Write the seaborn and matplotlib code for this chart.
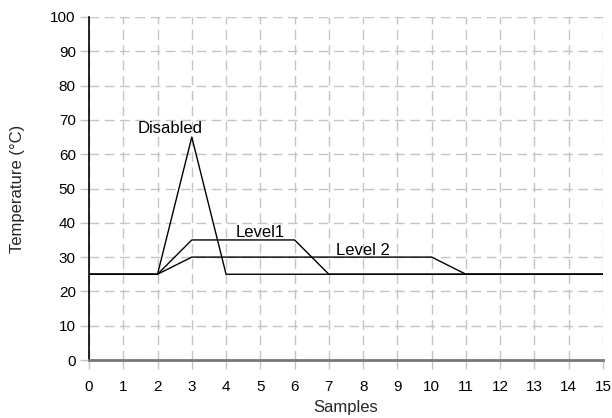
import matplotlib
matplotlib.use('Agg')
import matplotlib.pyplot as plt
import seaborn as sns
import pandas as pd

# data
samples = list(range(0, 16))
disabled = [25, 25, 25, 65, 25, 25, 25, 25, 25, 25, 25, 25, 25, 25, 25, 25]
level1 = [25, 25, 25, 35, 35, 35, 35, 25, 25, 25, 25, 25, 25, 25, 25, 25]
level2 = [25, 25, 25, 30, 30, 30, 30, 30, 30, 30, 30, 25, 25, 25, 25, 25]

labels = ['Disabled', 'Level1', 'Level 2']
label_x = [2.38, 5.0, 8.0]
label_y = [67.5, 37.3, 32.0]

x_ticks = list(range(0, 16))
y_ticks = list(range(0, 101, 10))

# set up style
sns.set_theme(style='white')
plt.rcParams['font.family'] = ['Liberation Sans', 'DejaVu Sans']

fig = plt.figure(figsize=(6.12, 4.18), dpi=100)
ax = fig.add_axes([89 / 612, 1 - 360 / 418, 514 / 612, 343 / 418])

df = pd.DataFrame({'Samples': samples, 'Disabled': disabled,
                   'Level1': level1, 'Level 2': level2})
for col in labels:
    sns.lineplot(data=df, x='Samples', y=col, ax=ax, color='black',
                 linewidth=1.0, zorder=3)

# annotations for each curve
for txt, tx, ty in zip(labels, label_x, label_y):
    ax.text(tx, ty, txt, ha='center', va='center', fontsize=12, color='black')

ax.set_xlim(0, 15)
ax.set_ylim(0, 100)
ax.set_xticks(x_ticks)
ax.set_yticks(y_ticks)

# dashed grid
ax.grid(True, which='major', color='#c4c4c4', linestyle=(0, (7, 4)), linewidth=1.0)
ax.set_axisbelow(True)

# spines
for side in ['top', 'right']:
    ax.spines[side].set_visible(False)
ax.spines['left'].set_color('black')
ax.spines['left'].set_linewidth(1.2)
ax.spines['bottom'].set_color('#777777')
ax.spines['bottom'].set_linewidth(2.0)
ax.spines['bottom'].set_zorder(4)

ax.tick_params(axis='both', which='major', direction='out', length=6.5,
               width=1.0, color='#c4c4c4', labelsize=11, labelcolor='black',
               pad=3, left=True, bottom=True)
ax.tick_params(axis='x', pad=8)
ax.xaxis.get_major_ticks()[0].tick1line.set_color('black')
ax.yaxis.get_major_ticks()[0].tick1line.set_color('#777777')

ax.set_xlabel('Samples', fontsize=12, labelpad=4)
ax.set_ylabel('Temperature (°C)', fontsize=12, labelpad=18)

fig.savefig('out.png', dpi=100)
plt.close(fig)
